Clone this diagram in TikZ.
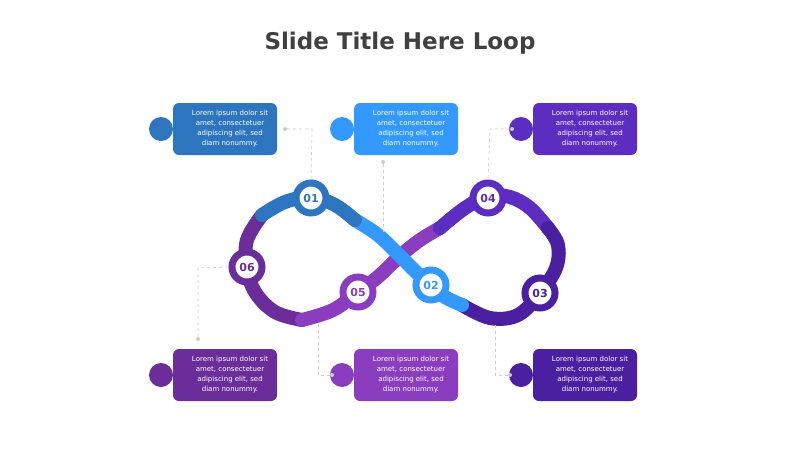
\documentclass[tikz,border=0pt]{standalone}
\usepackage{fontspec}
\setmainfont{DejaVu Sans}
\definecolor{cA}{HTML}{2E75C0}
\definecolor{cB}{HTML}{3399FF}
\definecolor{cC}{HTML}{4A1FA0}
\definecolor{cD}{HTML}{5B2DC0}
\definecolor{cE}{HTML}{8A3DBF}
\definecolor{cF}{HTML}{6A2D9A}
\definecolor{ctitle}{HTML}{404040}
\definecolor{cdash}{HTML}{CCCCCC}
\tikzset{
 seg/.style={line width=14pt,line cap=round},
 numc/.style={circle,minimum size=30pt,inner sep=0pt,fill=white,draw=#1,line width=7pt,text=#1,font=\bfseries\fontsize{11}{11}\selectfont},
 txt/.style={text=white,align=center,font=\fontsize{7}{10}\selectfont,inner sep=0pt},
 lead/.style={cdash,dashed,line width=0.7pt},
 dotn/.style={circle,fill=cdash,minimum size=4pt,inner sep=0pt},
}
\newcommand{\mybox}[4]{% x, y, color, name
 \fill[#3] (#1-12,#2+26) circle (12pt);
 \fill[#3,rounded corners=6pt] (#1,#2) rectangle (#1+104,#2+52);
 \node[txt] (#4) at (#1+57,#2+26) {Lorem ipsum dolor sit\\amet, consectetuer\\adipiscing elit, sed\\diam nonummy.};
}
\begin{document}
\begin{tikzpicture}[x=1pt,y=-1pt]
\useasboundingbox (0,0) rectangle (800,450);
\node[font=\bfseries\fontsize{23}{23}\selectfont,text=ctitle] (title) at (400,43) {Slide Title Here Loop};
% loop segments
\draw[seg,cF] plot[smooth,tension=0.6] coordinates{(302,320)(275,312)(255,292)(247,267)(247,240)(262,215)};
\draw[seg,cE] plot[smooth,tension=0.6] coordinates{(440,228)(420,240)(400,256)(379,276)(358,292)(333,310)(302,320)};
\draw[seg,cD] plot[smooth,tension=0.6] coordinates{(548,228)(530,208)(510,197)(488,196)(465,208)(440,228)};
\draw[seg,cC] plot[smooth,tension=0.6] coordinates{(462,305)(490,318)(518,315)(540,293)(556,268)(558,245)(548,228)};
\draw[seg,cB] plot[smooth,tension=0.6] coordinates{(355,220)(378,235)(400,256)(416,272)(431,285)(445,297)(462,305)};
\draw[seg,cA] plot[smooth,tension=0.6] coordinates{(262,215)(285,202)(311,197)(335,205)(355,220)};
% number circles
\node[numc=cA] (n1) at (311,198) {01};
\node[numc=cB] (n2) at (431,285) {02};
\node[numc=cC] (n3) at (540,293) {03};
\node[numc=cD] (n4) at (488,198) {04};
\node[numc=cE] (n5) at (358,292) {05};
\node[numc=cF] (n6) at (247,267) {06};
% boxes
\mybox{173}{103}{cA}{t1}
\mybox{354}{103}{cB}{t2}
\mybox{533}{103}{cD}{t4}
\mybox{173}{349}{cF}{t6}
\mybox{354}{349}{cE}{t5}
\mybox{533}{349}{cC}{t3}
% leaders
\node[dotn] (d1) at (285,129) {};
\coordinate (k1) at (312,129);
\draw[lead] (d1) -- (k1) -- (n1.north);
\node[dotn] (d2) at (383,162) {};
\coordinate (e2) at (383,232);
\draw[lead] (d2) -- (e2);
\node[dotn] (d4) at (512,129) {};
\coordinate (k4) at (490,129);
\draw[lead] (d4) -- (k4) -- (n4.north);
\node[dotn] (d6) at (198,339) {};
\coordinate (k6) at (198,268);
\draw[lead] (d6) -- (k6) -- (n6.west);
\node[dotn] (d5) at (332,375) {};
\coordinate (k5) at (318,375);
\coordinate (e5) at (318,322);
\draw[lead] (d5) -- (k5) -- (e5);
\node[dotn] (d3) at (510,375) {};
\coordinate (k3) at (495,375);
\coordinate (e3) at (495,322);
\draw[lead] (d3) -- (k3) -- (e3);
\end{tikzpicture}
\end{document}
